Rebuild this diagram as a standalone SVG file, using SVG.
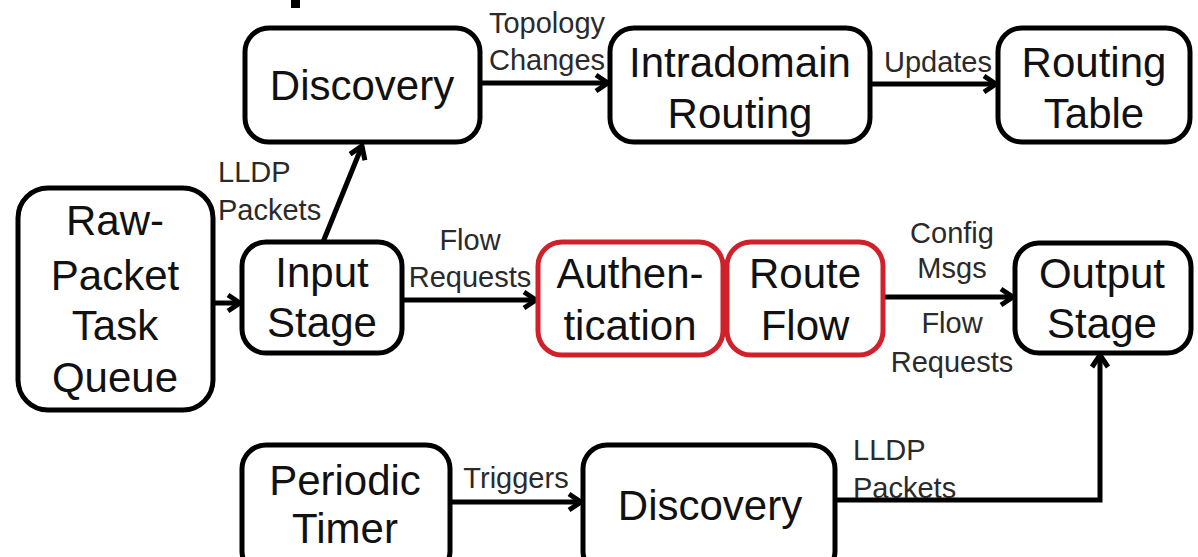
<svg xmlns="http://www.w3.org/2000/svg" width="1198" height="557" viewBox="0 0 1198 557">
<style>
.box{fill:#fff;stroke:#000;stroke-width:5}
.red{fill:#fff;stroke:#d0212a;stroke-width:5}
.n{font-family:"Liberation Sans",Arial,sans-serif;font-size:42px;fill:#111;text-anchor:middle}
.l{font-family:"Liberation Sans",Arial,sans-serif;font-size:29px;fill:#2a2a2a;text-anchor:middle}
.ls{text-anchor:start}
.c{fill:none;stroke:#000;stroke-width:5}
</style>
<defs>
<marker id="ah" markerUnits="userSpaceOnUse" markerWidth="24" markerHeight="24" viewBox="0 0 24 24" refX="20" refY="12" orient="auto">
<path d="M8,4 L20,12 L8,20" fill="none" stroke="#000" stroke-width="5" stroke-linejoin="miter"/>
</marker>
</defs>
<rect x="291" y="0" width="9" height="8" fill="#000"/>
<g id="connectors">
<path class="c" d="M480,83 L608,83" marker-end="url(#ah)"/>
<path class="c" d="M870,84 L996,84" marker-end="url(#ah)"/>
<path class="c" d="M213,303 L240,303" marker-end="url(#ah)"/>
<path class="c" d="M323,242 L362,146" marker-end="url(#ah)"/>
<path class="c" d="M402,300 L536,300" marker-end="url(#ah)"/>
<path class="c" d="M883,297 L1013,297" marker-end="url(#ah)"/>
<path class="c" d="M450,502 L581,502" marker-end="url(#ah)"/>
<path class="c" d="M835,500 L1100,500 L1100,355" marker-end="url(#ah)"/>
<text class="l" x="547" y="33">Topology</text>
<text class="l" x="547" y="70">Changes</text>
<text class="l" x="938" y="72">Updates</text>
<text class="l ls" x="218" y="182">LLDP</text>
<text class="l ls" x="218" y="220">Packets</text>
<text class="l" x="470" y="250">Flow</text>
<text class="l" x="470" y="287">Requests</text>
<text class="l" x="952" y="243">Config</text>
<text class="l" x="952" y="278">Msgs</text>
<text class="l" x="952" y="333">Flow</text>
<text class="l" x="952" y="372">Requests</text>
<text class="l" x="516" y="488">Triggers</text>
<text class="l ls" x="853" y="460">LLDP</text>
<text class="l ls" x="853" y="498">Packets</text>
</g>
<g id="discovery-top">
<rect class="box" x="245" y="28" width="235" height="114" rx="24"/>
<text class="n" x="362" y="100">Discovery</text>
</g>
<g id="intradomain">
<rect class="box" x="610" y="28" width="260" height="114" rx="24"/>
<text class="n" x="740" y="77">Intradomain</text>
<text class="n" x="740" y="128">Routing</text>
</g>
<g id="routing-table">
<rect class="box" x="998" y="28" width="192" height="114" rx="24"/>
<text class="n" x="1094" y="77">Routing</text>
<text class="n" x="1094" y="128">Table</text>
</g>
<g id="raw-packet">
<rect class="box" x="18" y="188" width="195" height="222" rx="30"/>
<text class="n" x="115" y="235">Raw-</text>
<text class="n" x="115" y="290">Packet</text>
<text class="n" x="115" y="340">Task</text>
<text class="n" x="115" y="392">Queue</text>
</g>
<g id="input-stage">
<rect class="box" x="242" y="242" width="160" height="111" rx="24"/>
<text class="n" x="322" y="287">Input</text>
<text class="n" x="322" y="337">Stage</text>
</g>
<g id="authentication">
<rect class="red" x="538" y="242" width="185" height="113" rx="24"/>
<text class="n" x="630" y="288">Authen-</text>
<text class="n" x="630" y="340">tication</text>
</g>
<g id="route-flow">
<rect class="red" x="727" y="242" width="156" height="113" rx="24"/>
<text class="n" x="805" y="288">Route</text>
<text class="n" x="805" y="340">Flow</text>
</g>
<g id="output-stage">
<rect class="box" x="1015" y="243" width="176" height="110" rx="24"/>
<text class="n" x="1102" y="288">Output</text>
<text class="n" x="1102" y="338">Stage</text>
</g>
<g id="periodic-timer">
<rect class="box" x="242" y="445" width="208" height="130" rx="24"/>
<text class="n" x="345" y="495">Periodic</text>
<text class="n" x="345" y="543">Timer</text>
</g>
<g id="discovery-bottom">
<rect class="box" x="583" y="445" width="252" height="130" rx="24"/>
<text class="n" x="710" y="520">Discovery</text>
</g>
</svg>
